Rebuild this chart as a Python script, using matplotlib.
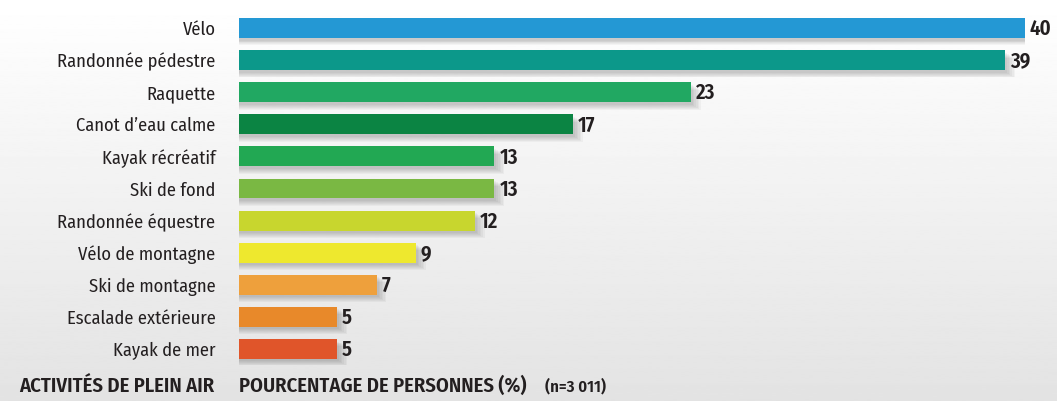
import matplotlib.pyplot as plt
import numpy as np

# data
activites = ['Vélo', 'Randonnée pédestre', 'Raquette', 'Canot d\u2019eau calme',
             'Kayak récréatif', 'Ski de fond', 'Randonnée équestre',
             'Vélo de montagne', 'Ski de montagne', 'Escalade extérieure',
             'Kayak de mer']
pourcentages = [40, 39, 23, 17, 13, 13, 12, 9, 7, 5, 5]
couleurs = ['#2498d4', '#0c988a', '#21a862', '#0b8443', '#22a853', '#7ab843',
            '#c8d62e', '#eee82e', '#eea03c', '#e8892a', '#e0552a']

plt.rcParams['font.family'] = ['Fira Sans Condensed', 'DejaVu Sans']
texte = '#231f20'

fig = plt.figure(figsize=(10.57, 4.01), dpi=100)

# fond en degrade
bg = fig.add_axes([0, 0, 1, 1], zorder=-10)
grad = np.linspace(1.0, 0.89, 256).reshape(-1, 1)
bg.imshow(grad, aspect='auto', cmap='gray', vmin=0, vmax=1,
          extent=[0, 1, 0, 1], origin='upper')
bg.axis('off')

ax = fig.add_axes([239 / 1057, 1 - 365 / 401, (1025 - 239) / 1057, (365 - 12) / 401])
ax.patch.set_alpha(0)

y = np.arange(len(activites))
h = 0.62

# ombres
for k in range(6):
    ax.barh(y + 0.08 + k * 0.03, [p + 0.1 + k * 0.08 for p in pourcentages],
            height=h, color='black', alpha=0.035, zorder=1)

ax.barh(y, pourcentages, height=h, color=couleurs, zorder=3)

for yi, p in zip(y, pourcentages):
    ax.text(p + 0.25, yi + 0.03, str(p), va='center', ha='left',
            fontsize=15, fontweight='semibold', color=texte)

ax.set_xlim(0, 40)
ax.set_ylim(10.5, -0.5)
ax.set_yticks(y)
ax.set_yticklabels(activites, fontsize=13.3, color=texte)
ax.tick_params(axis='y', length=0, pad=17)
ax.set_xticks([])
for s in ax.spines.values():
    s.set_visible(False)

fig.text(214 / 1057, 1 - 386 / 401, 'ACTIVITÉS DE PLEIN AIR', ha='right', va='center',
         fontsize=14.8, fontweight='semibold', color=texte)
fig.text(239 / 1057, 1 - 386 / 401, 'POURCENTAGE DE PERSONNES (%)', ha='left', va='center',
         fontsize=14.8, fontweight='semibold', color=texte)
fig.text(606 / 1057, 1 - 386 / 401, '(n=3 011)', ha='right', va='center',
         fontsize=12, fontweight='semibold', color=texte)

fig.savefig('out.png', dpi=100)
